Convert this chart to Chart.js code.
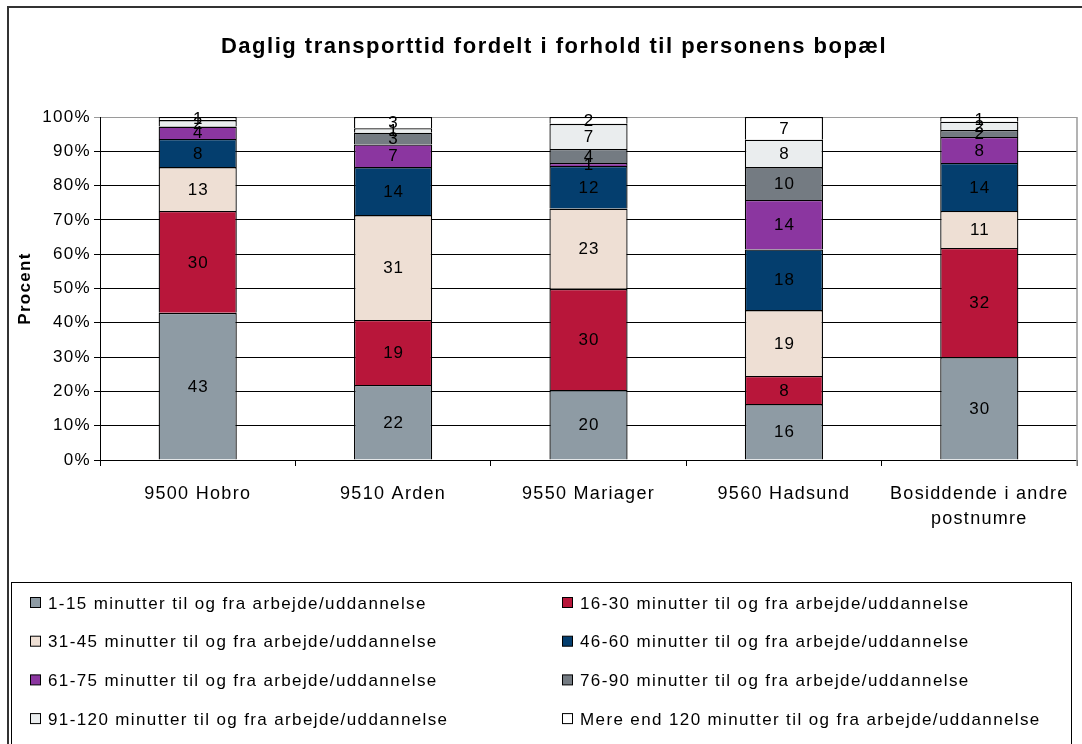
<!DOCTYPE html>
<html>
<head>
<meta charset="utf-8">
<script src="https://cdn.jsdelivr.net/npm/chart.js@4/dist/chart.umd.min.js"></script>
<style>
html,body{margin:0;padding:0;background:#fff;}
#wrap{width:1082px;height:744px;position:relative;}
</style>
</head>
<body>
<div id="wrap"><canvas id="c" width="1082" height="744"></canvas></div>
<script>
const chartTitle = "Daglig transporttid fordelt i forhold til personens bopæl";
const categories = ["9500 Hobro", "9510 Arden", "9550 Mariager", "9560 Hadsund", ["Bosiddende i andre", "postnumre"]];
const seriesNames = [
  "1-15 minutter til og fra arbejde/uddannelse",
  "16-30 minutter til og fra arbejde/uddannelse",
  "31-45 minutter til og fra arbejde/uddannelse",
  "46-60 minutter til og fra arbejde/uddannelse",
  "61-75 minutter til og fra arbejde/uddannelse",
  "76-90 minutter til og fra arbejde/uddannelse",
  "91-120 minutter til og fra arbejde/uddannelse",
  "Mere end 120 minutter til og fra arbejde/uddannelse"
];
const min1_15   = [42.9, 21.9, 20.4, 16.3, 30.0];
const min16_30  = [29.7, 18.9, 29.5,  8.2, 31.8];
const min31_45  = [12.8, 30.6, 23.4, 19.2, 10.8];
const min46_60  = [ 8.2, 14.0, 12.4, 17.7, 14.0];
const min61_75  = [ 3.6,  6.6,  0.9, 14.4,  7.6];
const min76_90  = [ 0.0,  3.4,  4.1,  9.6,  2.0];
const min91_120 = [ 1.9,  1.3,  7.3,  8.0,  2.4];
const over120   = [ 0.9,  3.3,  2.0,  6.6,  1.4];
const yTicks = [0,10,20,30,40,50,60,70,80,90,100];
const colors = ["#8E9BA4", "#B8163A", "#EEDFD4", "#043E6E", "#8B36A0", "#747B82", "#EAEDEE", "#FFFFFF"];

const seriesValues = [min1_15, min16_30, min31_45, min46_60, min61_75, min76_90, min91_120, over120];
const FONT = "'Liberation Sans', Arial, sans-serif";

const datasets = seriesValues.map((vals, i) => ({
  label: seriesNames[i],
  data: vals,
  backgroundColor: colors[i],
  borderColor: "#000",
  borderWidth: 1.3,
  barPercentage: 0.4,
  categoryPercentage: 1.0
}));

const spacingPlugin = {
  id: "spacing",
  beforeDraw(chart) { chart.ctx.letterSpacing = "1.3px"; },
  afterDraw(chart) { chart.ctx.letterSpacing = "0px"; }
};

const labelPlugin = {
  id: "barLabels",
  afterDatasetsDraw(chart) {
    const ctx = chart.ctx;
    ctx.save();
    ctx.letterSpacing = "1px";
    ctx.font = "17px " + FONT;
    ctx.fillStyle = "#000";
    ctx.textAlign = "center";
    ctx.textBaseline = "middle";
    chart.data.datasets.forEach((ds, di) => {
      const meta = chart.getDatasetMeta(di);
      meta.data.forEach((bar, j) => {
        const v = Math.round(ds.data[j]);
        if (v <= 0) return;
        const y = (bar.y + bar.base) / 2;
        ctx.fillText(String(v), bar.x + 0.5, y + 1);
      });
    });
    ctx.restore();
  }
};

const framePlugin = {
  id: "frameLegend",
  afterDraw(chart) {
    const ctx = chart.ctx;
    const a = chart.chartArea;
    ctx.save();
    // plot area right border
    ctx.strokeStyle = "#9a9a9a";
    ctx.lineWidth = 1.5;
    ctx.beginPath();
    ctx.moveTo(a.right, a.top);
    ctx.lineTo(a.right, a.bottom + 6);
    ctx.stroke();
    // outer frame
    ctx.strokeStyle = "#333";
    ctx.lineWidth = 2;
    ctx.beginPath();
    ctx.moveTo(8, 760);
    ctx.lineTo(8, 7);
    ctx.lineTo(1090, 7);
    ctx.stroke();
    // title
    ctx.letterSpacing = "1.5px";
    ctx.font = "bold 22px " + FONT;
    ctx.fillStyle = "#000";
    ctx.textAlign = "center";
    ctx.textBaseline = "middle";
    ctx.fillText(chartTitle, 554, 47);
    // legend box
    ctx.strokeStyle = "#000";
    ctx.lineWidth = 1;
    ctx.strokeRect(11.5, 582.5, 1060, 200);
    // legend items
    ctx.letterSpacing = "1.38px";
    ctx.font = "17px " + FONT;
    ctx.textBaseline = "middle";
    ctx.textAlign = "left";
    chart.data.datasets.forEach((ds, i) => {
      const col = i % 2, row = Math.floor(i / 2);
      const mx = col ? 562 : 30;
      const my = 603 + row * 38.7;
      ctx.fillStyle = ds.backgroundColor;
      ctx.fillRect(mx + 0.5, my - 5.5, 10, 10);
      ctx.strokeStyle = "#000";
      ctx.lineWidth = 1;
      ctx.strokeRect(mx + 0.5, my - 5.5, 10, 10);
      ctx.fillStyle = "#000";
      ctx.fillText(ds.label, mx + 18, my + 1);
    });
    ctx.restore();
  }
};

new Chart(document.getElementById("c"), {
  type: "bar",
  data: { labels: categories, datasets },
  options: {
    responsive: false,
    animation: false,
    layout: { padding: { left: 0, right: 5, top: 117, bottom: 0 } },
    plugins: {
      legend: { display: false },
      tooltip: { enabled: false },
      title: { display: false }
    },
    scales: {
      x: {
        stacked: true,
        grid: { display: true, drawOnChartArea: false, offset: true, tickLength: 6, color: "#000", lineWidth: 1 },
        border: { display: true, color: "#000", width: 1 },
        ticks: { color: "#000", font: { family: FONT, size: 18, lineHeight: 1.4 }, padding: 15, maxRotation: 0, autoSkip: false },
        afterFit(s) { s.height = 284; }
      },
      y: {
        stacked: true,
        min: 0, max: 100,
        afterBuildTicks(s) { s.ticks = yTicks.map(v => ({ value: v })); },
        grid: {
          color: c => (c.tick && c.tick.value === 100) ? "#9a9a9a" : "#000",
          lineWidth: 1,
          tickLength: 6
        },
        border: { display: true, color: "#000", width: 1 },
        ticks: { color: "#000", font: { family: FONT, size: 17 }, padding: 3, callback: v => v + "%" },
        title: { display: true, text: "Procent", color: "#000", font: { family: FONT, size: 17, weight: "bold" }, padding: { top: 15, bottom: 0 } },
        afterFit(s) { s.width = 100; }
      }
    }
  },
  plugins: [spacingPlugin, labelPlugin, framePlugin]
});
</script>
</body>
</html>
